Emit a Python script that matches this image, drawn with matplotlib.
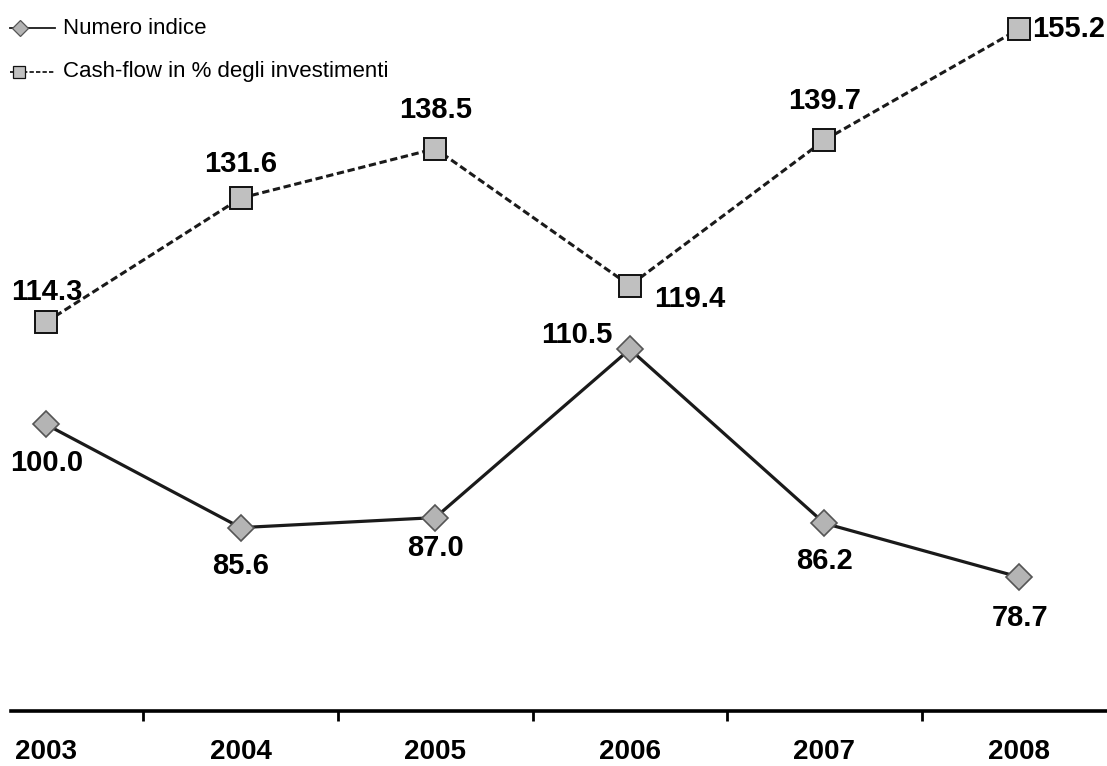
import matplotlib
matplotlib.use("Agg")
import matplotlib.pyplot as plt
from matplotlib.lines import Line2D

plt.rcParams["font.family"] = ["Liberation Sans", "DejaVu Sans"]

years = ["2003", "2004", "2005", "2006", "2007", "2008"]
numero_indice = [100.0, 85.6, 87.0, 110.5, 86.2, 78.7]
cash_flow = [114.3, 131.6, 138.5, 119.4, 139.7, 155.2]

# where each value label sits relative to its marker (pixels)
idx_offsets = [(1, -39), (0, -38), (0, -30), (-53, 14), (0, -38), (1, -41)]
cf_offsets = [(1, 30), (0, 34), (0, 39), (60, -13), (0, 39), (50, 0)]

W, H = 1107, 766
fig = plt.figure(figsize=(W / 100, H / 100), dpi=100)
ax = fig.add_axes([11 / W, (H - 711) / H, 1096 / W, 702 / H])

x = list(range(len(years)))

idx_style = dict(color="#1a1a1a", lw=2.3, ls="-", marker="D",
                 mfc="#b4b4b4", mec="#555555", mew=1.2)
cf_style = dict(color="#1a1a1a", lw=2.2, ls=(0, (2.4, 1.2)), marker="s",
                mfc="#c0c0c0", mec="#111111", mew=1.4)

ax.plot(x, numero_indice, ms=13, zorder=3, **idx_style)
ax.plot(x, cash_flow, ms=16, zorder=3, **cf_style)

for series, offsets in [(numero_indice, idx_offsets), (cash_flow, cf_offsets)]:
    for xi, v, (dx, dy) in zip(x, series, offsets):
        ax.annotate(f"{v:.1f}", (xi, v), xytext=(dx, dy), textcoords="offset pixels",
                    ha="center", va="center", fontsize=21, fontweight="bold",
                    annotation_clip=False)

ax.set_xlim(-0.18, 5.452)
ax.set_ylim(60, 158)

for side in ["top", "right", "left"]:
    ax.spines[side].set_visible(False)
ax.spines["bottom"].set_linewidth(2.6)
ax.set_yticks([])

# tick marks between categories, labels under each category
ax.set_xticks([i + 0.5 for i in range(len(years) - 1)])
ax.set_xticklabels([])
ax.tick_params(axis="x", which="major", length=7, width=2, direction="out")
ax.set_xticks(x, minor=True)
ax.set_xticklabels(years, minor=True, fontsize=20, fontweight="bold")
ax.tick_params(axis="x", which="minor", length=0, pad=20)

# legend drawn by hand: short key line with the marker near its left end
def fx(px):
    return px / W


def fy(py):
    return 1 - py / H


keys = [
    ("Numero indice", idx_style, 28, 20, 8),
    ("Cash-flow in % degli investimenti", cf_style, 72, 19, 9),
]
for label, style, ky, mx, ms in keys:
    line_style = {k: v for k, v in style.items() if not k.startswith("m")}
    line_style["lw"] = 1.3
    fig.add_artist(Line2D([fx(10), fx(55)], [fy(ky), fy(ky)], **line_style))
    fig.add_artist(Line2D([fx(mx)], [fy(ky)], ls="none", marker=style["marker"],
                          ms=ms, mfc=style["mfc"], mec=style["mec"], mew=0.9))
    fig.text(fx(63), fy(ky), label, fontsize=16, ha="left", va="center")

fig.savefig("out.png", dpi=100)
